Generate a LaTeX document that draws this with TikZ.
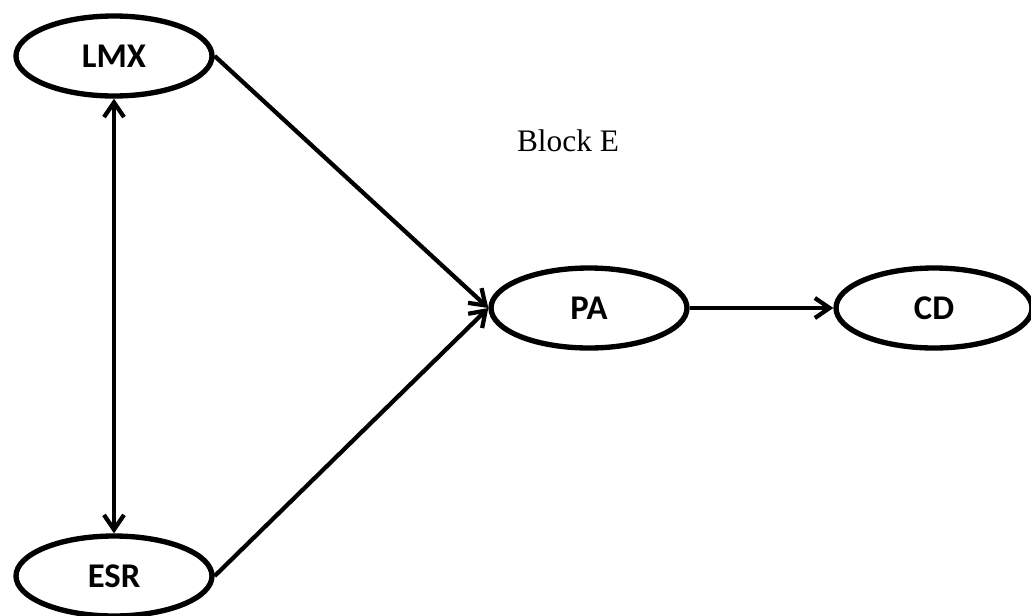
\documentclass[tikz,border=0pt]{standalone}
\usepackage{fontspec}
\setmainfont{Liberation Serif}
\newfontfamily\labelfont{Carlito}
\usetikzlibrary{arrows.meta,shapes.geometric}
\begin{document}
\begin{tikzpicture}[x=0.75pt,y=-0.75pt,
  construct/.style={draw=black, line width=4pt, ellipse, inner sep=0pt,
    minimum width=147pt, minimum height=60pt, fill=white,
    font=\labelfont\bfseries\fontsize{26}{30}\selectfont},
  barb/.tip={Straight Barb[length=11pt,width=15pt,line width=3.2pt]},
  effect/.style={line width=3.2pt, -barb},
  covary/.style={line width=3.2pt, barb-barb}
]
\useasboundingbox (0,0) rectangle (1031,615);
\node[construct] (lmx) at (114,56) {LMX};
\node[construct] (esr) at (114,576) {ESR};
\node[construct] (pa) at (589,308) {PA};
\node[construct] (cd) at (934,308) {CD};
\node[font=\fontsize{23.5}{28}\selectfont] (block) at (568,141) {Block E};
\draw[covary] (lmx.south) -- (esr.north);
\draw[effect] (lmx.east) -- (pa.west);
\draw[effect] (esr.east) -- (pa.west);
\draw[effect] (pa.east) -- (cd.west);
\end{tikzpicture}
\end{document}
